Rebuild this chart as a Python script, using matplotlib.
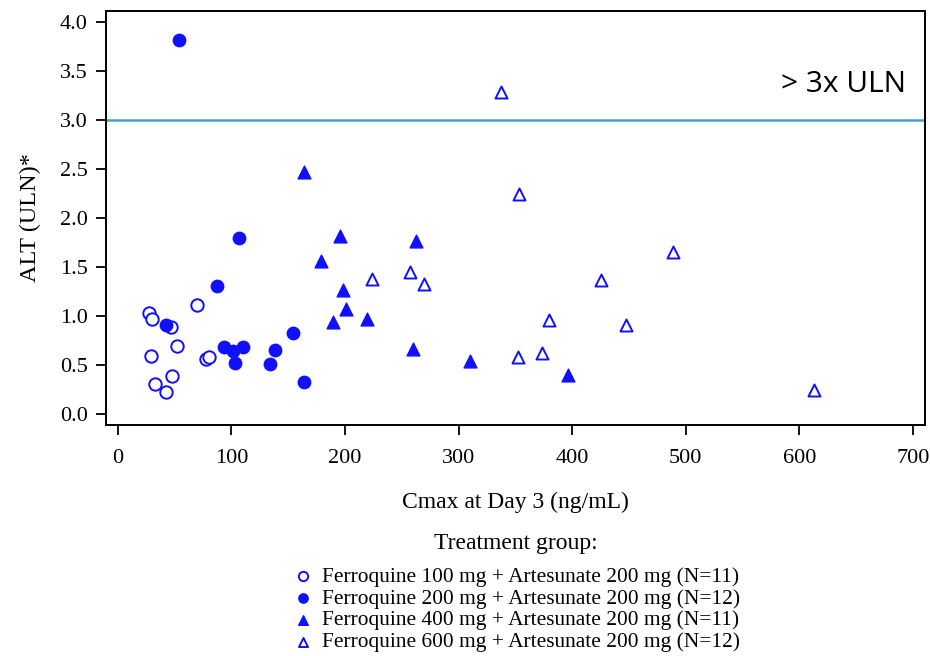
import numpy as np
import matplotlib.pyplot as plt
from matplotlib.ticker import FormatStrFormatter

plt.rcParams['font.family'] = ['Liberation Serif', 'DejaVu Serif']

# Ferroquine 100 mg group (open circles)
cmax_100 = [27.4, 30.3, 47.1, 70.0, 52.4, 29.4, 77.3, 80.3, 47.4, 32.4, 42.3]
alt_100 = [1.03, 0.97, 0.89, 1.11, 0.69, 0.59, 0.56, 0.58, 0.39, 0.31, 0.23]

# Ferroquine 200 mg group (filled circles)
cmax_200 = [53.5, 106.4, 87.6, 42.1, 93.2, 101.2, 110.2, 102.9, 134.4, 138.2, 154.3, 164.0]
alt_200 = [3.82, 1.80, 1.31, 0.91, 0.68, 0.64, 0.68, 0.52, 0.51, 0.65, 0.83, 0.33]

# Ferroquine 400 mg group (filled triangles)
cmax_400 = [164.0, 195.5, 262.5, 178.5, 198.4, 200.5, 189.6, 219.3, 259.9, 309.9, 396.3]
alt_400 = [2.47, 1.82, 1.77, 1.56, 1.27, 1.07, 0.94, 0.97, 0.66, 0.54, 0.40]

# Ferroquine 600 mg group (open triangles)
cmax_600 = [337.7, 353.1, 223.5, 257.0, 269.8, 425.0, 379.2, 352.7, 373.4, 488.4, 447.7, 612.9]
alt_600 = [3.29, 2.25, 1.38, 1.45, 1.33, 1.37, 0.96, 0.58, 0.62, 1.65, 0.91, 0.25]

labels = ["Ferroquine 100 mg + Artesunate 200 mg (N=11)",
          "Ferroquine 200 mg + Artesunate 200 mg (N=12)",
          "Ferroquine 400 mg + Artesunate 200 mg (N=11)",
          "Ferroquine 600 mg + Artesunate 200 mg (N=12)"]

uln_limit = 3.0
blue = '#1010ff'

fig = plt.figure(figsize=(9.3, 6.56), dpi=100)
ax = fig.add_axes([0.114, 0.352, 0.8806, 0.6317])

h1 = ax.scatter(cmax_100, alt_100, s=80, marker='o', facecolors='white', edgecolors=blue, linewidths=1.4)
h2 = ax.scatter(cmax_200, alt_200, s=80, marker='o', color=blue)
h3 = ax.scatter(cmax_400, alt_400, s=85, marker='^', color=blue)
h4 = ax.scatter(cmax_600, alt_600, s=75, marker='^', facecolors='white', edgecolors=blue, linewidths=1.4)

ax.axhline(uln_limit, color='#4a9ed6', lw=1.8, zorder=0)
ax.text(694, 3.36, "> 3x ULN", ha='right', va='center', fontsize=21.5, family=['Open Sans', 'DejaVu Sans'])

ax.set_xlim(-10.4, 710.6)
ax.set_ylim(-0.112, 4.115)
ax.set_xticks(np.arange(0, 701, 100))
ax.set_yticks(np.arange(0, 4.01, 0.5))
ax.yaxis.set_major_formatter(FormatStrFormatter('%.1f'))
ax.tick_params(direction='out', length=7.5, width=1.3, labelsize=16)
ax.tick_params(axis='x', pad=10)
ax.tick_params(axis='y', pad=5.5)
for sp in ax.spines.values():
    sp.set_linewidth(1.4)

ax.set_xlabel("Cmax at Day 3 (ng/mL)", fontsize=17, labelpad=17)
ax.set_ylabel("ALT (ULN)*", fontsize=17.5, labelpad=14)

fig.text(0.555, 1 - 543 / 656, "Treatment group:", ha='center', va='center', fontsize=17)
fig.legend([h1, h2, h3, h4], labels, loc='upper center',
           bbox_to_anchor=(0.555, 1 - 556 / 656), frameon=False, fontsize=15.4,
           handletextpad=0.35, labelspacing=0.09, borderpad=0,
           markerscale=0.75, handlelength=1.0)

fig.savefig("out.png", dpi=100)
